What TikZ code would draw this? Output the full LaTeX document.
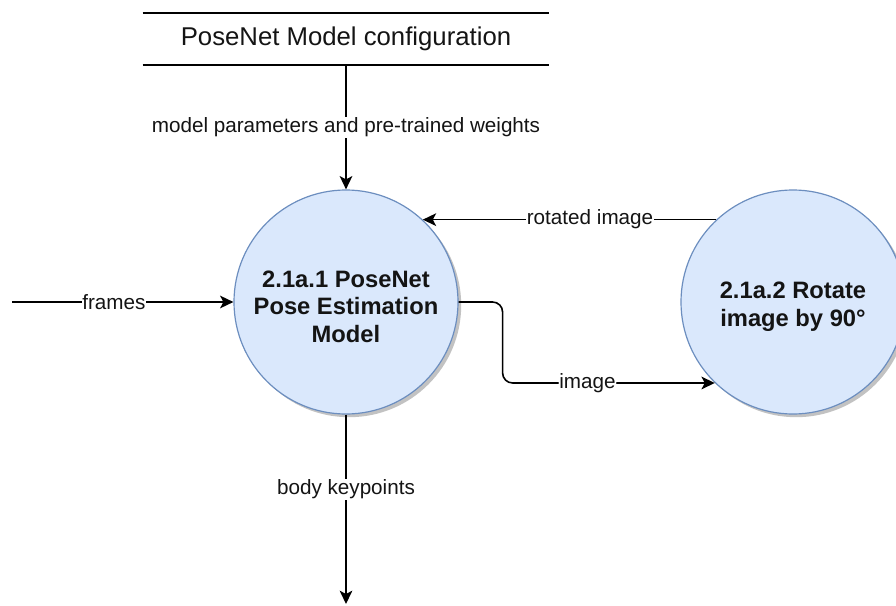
\documentclass[tikz,border=0pt]{standalone}
\usepackage{fontspec}
\setmainfont{Liberation Sans}
\usetikzlibrary{arrows.meta,shadows}
\definecolor{procfill}{HTML}{DAE8FC}
\definecolor{procdraw}{HTML}{6C8EBF}
\definecolor{ink}{HTML}{141414}
% strut that lowers the text block inside the process circles a little
\newcommand{\toppad}{\rule{0pt}{19.5pt}}
\begin{document}
\begin{tikzpicture}[x=0.75pt,y=-0.75pt,
  flow/.style={line width=1.2pt, draw=black,
    -{Stealth[length=10pt,width=9.5pt,inset=2.5pt]}},
  lbl/.style={fill=white, inner sep=0.5pt, text=ink,
    font=\fontsize{15.5pt}{18pt}\selectfont},
  proc/.style={circle, draw=procdraw, line width=0.9pt, fill=procfill,
    minimum size=168pt, inner sep=0pt, align=center, text=ink,
    font=\bfseries\fontsize{17.8pt}{20.6pt}\selectfont,
    drop shadow={shadow xshift=2.4pt, shadow yshift=-2.4pt,
      opacity=0.4, fill=black!60}},
  store/.style={minimum width=304.5pt, minimum height=39pt, inner sep=0pt,
    text=ink, font=\fontsize{19.3pt}{22pt}\selectfont}]

\useasboundingbox (0,0) rectangle (896,606);

% data store with its two horizontal rules
\node[store] (ds) at (346,39) {PoseNet Model configuration};
\draw[line width=1.2pt] (ds.north west) -- (ds.north east);
\draw[line width=1.2pt] (ds.south west) -- (ds.south east);

% processes
\node[proc] (p1) at (346,302) {\toppad 2.1a.1 PoseNet\\Pose Estimation\\Model};
\node[proc] (p2) at (793,302) {\toppad 2.1a.2 Rotate\\image by 90°};

% free ends
\coordinate (src) at (12,302);
\coordinate (sink) at (346,604);

% data flows
\draw[flow] (ds.south) -- node[lbl, pos=0.5] {model parameters and pre-trained weights} (p1.north);
\draw[flow] (src) -- node[lbl, pos=0.46] {frames} (p1.west);
\draw[flow] (p2.133) -- node[lbl, pos=0.43] {rotated image} (p1.47);
\draw[flow, rounded corners=7.5pt] (p1.east) -- ++(44,0) |- node[lbl, pos=0.70] {image} (p2.226);
\draw[flow] (p1.south) -- node[lbl, pos=0.395] {body keypoints} (sink);
\end{tikzpicture}
\end{document}
